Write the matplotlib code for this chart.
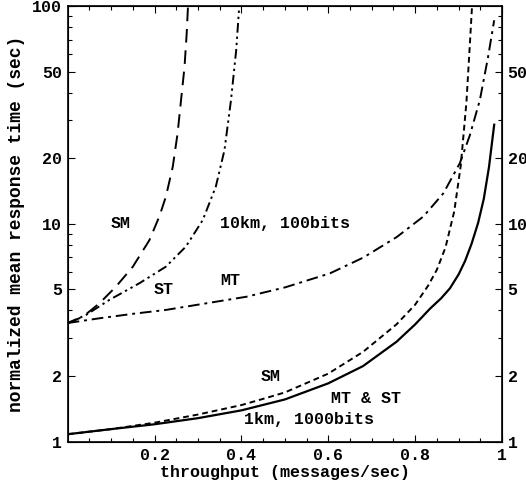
import numpy as np
import matplotlib
matplotlib.use("Agg")
import matplotlib.pyplot as plt
from matplotlib.ticker import FixedLocator, NullFormatter

# 10km, 100bits
sm10_x = [0, 0.008, 0.035, 0.073, 0.111, 0.150, 0.188, 0.211, 0.226, 0.242, 0.253, 0.261, 0.269, 0.274, 0.277]
sm10_y = [3.5, 3.55, 3.74, 4.31, 5.14, 6.35, 8.4, 10.8, 13.3, 18.3, 26, 37, 52.6, 75, 100]
st10_x = [0, 0.042, 0.096, 0.165, 0.226, 0.272, 0.311, 0.341, 0.361, 0.376, 0.388, 0.395]
st10_y = [3.5, 3.81, 4.47, 5.33, 6.35, 7.85, 10.4, 14.8, 21.8, 37, 62.8, 100]
mt10_x = [0, 0.073, 0.151, 0.226, 0.30, 0.411, 0.50, 0.604, 0.681, 0.758, 0.819, 0.865, 0.903, 0.926, 0.949, 0.968, 0.982]
mt10_y = [3.5, 3.68, 3.86, 4.02, 4.25, 4.62, 5.1, 5.92, 7.0, 8.7, 10.8, 13.8, 19, 25.5, 37, 58.5, 86]

# 1km, 1000bits
sm1_x = [0, 0.10, 0.20, 0.30, 0.40, 0.45, 0.50, 0.60, 0.68, 0.757, 0.80, 0.83, 0.85, 0.87, 0.89, 0.905, 0.918, 0.926, 0.931]
sm1_y = [1.08, 1.14, 1.22, 1.33, 1.47, 1.57, 1.68, 2.05, 2.58, 3.45, 4.25, 5.2, 6.15, 7.8, 11.4, 18.5, 36, 67, 100]
mtst1_x = [0, 0.10, 0.20, 0.30, 0.40, 0.50, 0.60, 0.68, 0.757, 0.80, 0.834, 0.86, 0.88, 0.90, 0.915, 0.93, 0.945, 0.958, 0.97, 0.982]
mtst1_y = [1.08, 1.14, 1.2, 1.28, 1.39, 1.56, 1.85, 2.22, 2.87, 3.45, 4.07, 4.55, 5.05, 5.85, 6.75, 8.1, 10.1, 13, 18.2, 28.5]

x_ticks = [0.2, 0.4, 0.6, 0.8, 1.0]
x_ticklabels = ["0.2", "0.4", "0.6", "0.8", "1"]
y_ticks = [1, 2, 5, 10, 20, 50, 100]
y_ticklabels = ["1", "2", "5", "10", "20", "50", "100"]
y_minor = [3, 4, 6, 7, 8, 9, 30, 40, 60, 70, 80, 90]

mono = "Liberation Mono"

fig = plt.figure(figsize=(5.26, 4.84), dpi=100)
ax = fig.add_axes([0.1287, 0.0878, 0.8257, 0.8998])

ax.plot(sm10_x, sm10_y, color="black", lw=1.4, dashes=(7, 4))
ax.plot(st10_x, st10_y, color="black", lw=1.4, dashes=(5, 2, 1.2, 2, 1.2, 2))
ax.plot(mt10_x, mt10_y, color="black", lw=1.4, dashes=(6, 2.5, 1.5, 2.5))
ax.plot(sm1_x, sm1_y, color="black", lw=1.4, dashes=(3, 2))
ax.plot(mtst1_x, mtst1_y, color="black", lw=1.6)

ax.set_yscale("log")
ax.set_xlim(0, 1)
ax.set_ylim(1, 100)

ax.xaxis.set_major_locator(FixedLocator(x_ticks))
ax.set_xticklabels(x_ticklabels)
ax.xaxis.set_minor_locator(FixedLocator(np.arange(0.05, 1.0, 0.05)))
ax.yaxis.set_major_locator(FixedLocator(y_ticks))
ax.set_yticklabels(y_ticklabels)
ax.yaxis.set_minor_locator(FixedLocator(y_minor))
ax.yaxis.set_minor_formatter(NullFormatter())

ax.tick_params(which="both", direction="in", top=True, right=False, width=0.8)
ax.tick_params(which="major", length=5, labelsize=12)
ax.tick_params(axis="x", which="major", pad=5)
ax.tick_params(axis="y", which="major", pad=4)
ax.tick_params(which="minor", length=3)
for lab in ax.get_xticklabels() + ax.get_yticklabels():
    lab.set_fontfamily(mono)
    lab.set_fontweight("bold")

ax2 = ax.twinx()
ax2.set_yscale("log")
ax2.set_ylim(1, 100)
ax2.yaxis.set_major_locator(FixedLocator(y_ticks[:-1]))
ax2.set_yticklabels(y_ticklabels[:-1])
ax2.yaxis.set_minor_locator(FixedLocator(y_minor))
ax2.yaxis.set_minor_formatter(NullFormatter())
ax2.tick_params(which="both", direction="in", width=0.8)
ax2.tick_params(which="major", length=5, labelsize=12, pad=4)
ax2.tick_params(which="minor", length=3)
for lab in ax2.get_yticklabels():
    lab.set_fontfamily(mono)
    lab.set_fontweight("bold")

for sp in ax.spines.values():
    sp.set_linewidth(1.2)

ax.set_xlabel("throughput (messages/sec)", fontfamily=mono, fontweight="bold",
              fontsize=12, labelpad=1)
ax.set_ylabel("normalized mean response time (sec)", fontfamily=mono,
              fontweight="bold", fontsize=13, labelpad=5)

txt = dict(fontfamily=mono, fontweight="bold", fontsize=12, ha="center", va="center")
ax.text(0.121, 10, "SM", **txt)
ax.text(0.22, 5.0, "ST", **txt)
ax.text(0.374, 5.5, "MT", **txt)
ax.text(0.50, 10, "10km, 100bits", **txt)
ax.text(0.467, 1.98, "SM", **txt)
ax.text(0.686, 1.57, "MT & ST", **txt)
ax.text(0.556, 1.256, "1km, 1000bits", **txt)

fig.savefig("out.png", dpi=100)
